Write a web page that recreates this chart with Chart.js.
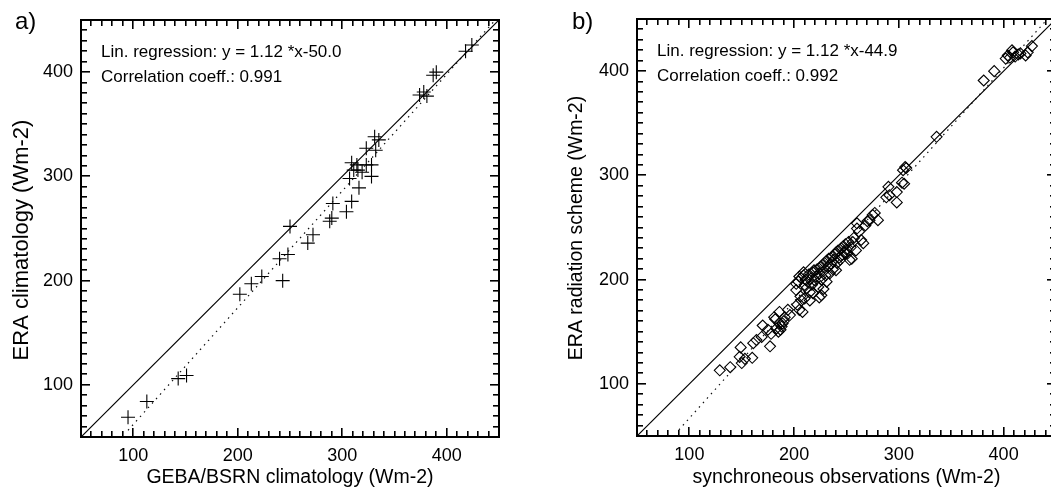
<!DOCTYPE html>
<html lang="en">
<head>
<meta charset="UTF-8">
<title>ERA surface radiation</title>
<style>
  html, body { margin: 0; padding: 0; background: #fff; overflow: hidden; }
  canvas { position: absolute; top: 0; }
  #chartA { left: 0; }
  #chartB { left: 525px; }
</style>
<script src="https://cdn.jsdelivr.net/npm/chart.js"></script>
</head>
<body>
<canvas id="chartA" width="525" height="487"></canvas>
<canvas id="chartB" width="545" height="487"></canvas>
<script>
// a) station climatologies: GEBA/BSRN (x) vs ERA (y), Wm-2
const gebaA = [95, 113, 143, 151, 202, 213, 223, 240, 248, 243, 250, 267, 272, 288, 290, 291,
  304, 309, 307, 316, 309, 314, 323, 328, 311, 315, 319, 328, 323, 332, 331, 335,
  374, 378, 381, 390, 387, 418, 424];
const eraA = [69, 84, 106, 109, 187, 197, 204, 221, 225, 200, 252, 236, 244, 257, 260, 274,
  266, 276, 298, 289, 313, 311, 311, 311, 306, 306, 304, 300, 327, 325, 338, 335,
  378, 381, 377, 400, 397, 420, 426];

// b) synchroneous observations (x) vs ERA radiation scheme (y), Wm-2
const obsB = [129, 139, 148, 150, 149, 153, 160, 161, 164, 169, 170, 175, 177, 178, 181, 183,
  186, 186, 188, 190, 191, 194, 196, 182, 185, 187, 189,
  202, 202, 203, 204, 205, 205, 206, 207, 208, 209, 209, 210, 210, 211, 212, 213, 214, 215,
  215, 216, 217, 218, 218, 219, 220, 221, 222, 223, 224, 224, 225, 226, 226, 227, 228, 228,
  229, 230, 231, 231, 232, 233, 234, 235, 236, 237, 238, 239, 240, 240, 241, 242, 243, 244,
  245, 246, 247, 248, 249, 250, 251, 252, 253, 254, 255, 256, 257, 259, 260, 260, 262, 264,
  266, 268, 270, 272, 275, 277, 280,
  288, 290, 291, 298, 298, 303, 304, 305, 306, 307, 336,
  381, 391, 402, 404, 406, 408, 409, 411, 414, 416, 421, 423, 427];
const eraB = [113, 116, 126, 120, 135, 124, 125, 139, 142, 145, 156, 152, 136, 148, 164, 153,
  158, 169, 155, 160, 164, 171, 166, 162, 150, 152, 158,
  190, 196, 176, 198, 203, 171, 184, 180, 169, 207, 204, 182, 195, 200, 192, 198, 205, 180,
  188, 201, 195, 187, 207, 209, 199, 203, 210, 193, 183, 206, 212, 185, 200, 214, 191, 208,
  216, 204, 198, 218, 212, 220, 206, 215, 222, 210, 219, 224, 209, 226, 216, 228, 221, 219,
  230, 224, 232, 226, 234, 229, 225, 236, 219, 231, 220, 236, 240, 228, 254, 249, 246, 238,
  235, 252, 256, 257, 262, 264, 257,
  279, 289, 281, 274, 284, 293, 305, 292, 308, 307, 337,
  391, 400, 412, 415, 413, 420, 418, 414, 416, 417, 415, 418, 424];

const tickValues = [100, 200, 300, 400];
const axisMin = 50;
const axisMax = 450;
const minorStep = 10;

// linear fits and correlation
const fitA = { slope: 1.12, offset: -50.0, from: 95, corr: 0.991 };
const fitB = { slope: 1.12, offset: -44.9, from: 90, corr: 0.992 };

const FONT = '"Liberation Sans", Arial, Helvetica, sans-serif';
Chart.defaults.font.family = FONT;
Chart.defaults.color = '#000';

function fitLine(fit) {
  // run the fit line up to where it leaves the top of the plot
  const to = Math.min(axisMax, (axisMax - fit.offset) / fit.slope);
  return [fit.from, to].map(x => ({ x: x, y: fit.slope * x + fit.offset }));
}

// box, inward ticks on all four sides, and the text labels
const framePlugin = {
  id: 'frame',
  afterDraw(chart, args, opts) {
    const { ctx, chartArea: a } = chart;
    const sx = chart.scales.x, sy = chart.scales.y;
    const L = Math.round(a.left), R = Math.round(a.right);
    const T = Math.round(a.top), B = Math.round(a.bottom);
    ctx.save();
    ctx.fillStyle = '#000';
    ctx.fillRect(L - 1, T - 1, R - L + 2, 2);
    ctx.fillRect(L - 1, B - 1, R - L + 2, 2);
    ctx.fillRect(L - 1, T - 1, 2, B - T + 2);
    ctx.fillRect(R - 1, T - 1, 2, B - T + 2);
    // minor ticks every 10, major every 100
    for (let v = axisMin + minorStep; v < axisMax; v += minorStep) {
      const len = v % 100 === 0 ? 9 : 6;
      const px = Math.round(sx.getPixelForValue(v));
      const py = Math.round(sy.getPixelForValue(v));
      ctx.fillRect(px - 1, B - len, 1.6, len);
      ctx.fillRect(px - 1, T, 1.6, len);
      ctx.fillRect(L, py - 1, len, 1.6);
      ctx.fillRect(R - len, py - 1, len, 1.6);
    }

    ctx.textBaseline = 'alphabetic';
    ctx.textAlign = 'left';
    ctx.font = '24px ' + FONT;
    ctx.fillText(opts.tag, opts.tagX, 29);

    const f = opts.fit;
    ctx.font = '17px ' + FONT;
    ctx.fillText('Lin. regression: y = ' + f.slope.toFixed(2) + ' *x' + f.offset.toFixed(1),
      a.left + 20, a.top + 37);
    ctx.fillText('Correlation coeff.: ' + f.corr.toFixed(3), a.left + 20, a.top + 62);

    ctx.textAlign = 'center';
    ctx.font = opts.xTitleSize + 'px ' + FONT;
    ctx.fillText(opts.xTitle, (a.left + a.right) / 2, 483);

    ctx.translate(opts.yTitleX, opts.yTitleY);
    ctx.rotate(-Math.PI / 2);
    ctx.textBaseline = 'middle';
    ctx.font = opts.yTitleSize + 'px ' + FONT;
    ctx.fillText(opts.yTitle, 0, 0);
    ctx.restore();
  }
};

function makeChart(id, xs, ys, fit, marker, layout, text) {
  const points = xs.map((x, i) => ({ x: x, y: ys[i] }));
  return new Chart(document.getElementById(id), {
    type: 'scatter',
    data: {
      datasets: [
        {
          data: [{ x: axisMin, y: axisMin }, { x: axisMax, y: axisMax }],
          showLine: true, borderColor: '#000', borderWidth: 1.2, pointRadius: 0
        },
        {
          data: fitLine(fit),
          showLine: true, borderColor: '#111', borderWidth: 1.2,
          borderDash: [1.5, 4.5], pointRadius: 0
        },
        {
          data: points,
          pointStyle: marker.style, radius: marker.radius,
          borderColor: '#000', backgroundColor: 'rgba(0,0,0,0)', borderWidth: 1.1
        }
      ]
    },
    options: {
      responsive: false,
      animation: false,
      devicePixelRatio: 1,
      layout: { padding: { top: layout.top, right: layout.right, left: 0, bottom: 0 } },
      plugins: { legend: { display: false }, tooltip: { enabled: false }, frame: text },
      scales: {
        x: {
          type: 'linear', min: axisMin, max: axisMax,
          grid: { display: false, drawTicks: false }, border: { display: false },
          ticks: { font: { size: 18 }, padding: 8, maxRotation: 0 },
          afterBuildTicks: s => { s.ticks = tickValues.map(v => ({ value: v })); },
          afterFit: s => { s.height = layout.xHeight; }
        },
        y: {
          type: 'linear', min: axisMin, max: axisMax,
          grid: { display: false, drawTicks: false }, border: { display: false },
          ticks: { font: { size: 18 }, padding: 8 },
          afterBuildTicks: s => { s.ticks = tickValues.map(v => ({ value: v })); },
          afterFit: s => { s.width = layout.yWidth; }
        }
      }
    },
    plugins: [framePlugin]
  });
}

makeChart('chartA', gebaA, eraA, fitA,
  { style: 'cross', radius: 7 },
  { top: 20, right: 26, xHeight: 50, yWidth: 81 },
  { tag: 'a)', tagX: 15, fit: fitA,
    xTitle: 'GEBA/BSRN climatology (Wm-2)', xTitleSize: 19.5,
    yTitle: 'ERA climatology (Wm-2)', yTitleSize: 22, yTitleX: 22, yTitleY: 240 });

makeChart('chartB', obsB, eraB, fitB,
  { style: 'rectRot', radius: 5.5 },
  { top: 19, right: 14, xHeight: 51, yWidth: 112 },
  { tag: 'b)', tagX: 47, fit: fitB,
    xTitle: 'synchroneous observations (Wm-2)', xTitleSize: 19.5,
    yTitle: 'ERA radiation scheme (Wm-2)', yTitleSize: 19.5, yTitleX: 52, yTitleY: 228 });
</script>
</body>
</html>
